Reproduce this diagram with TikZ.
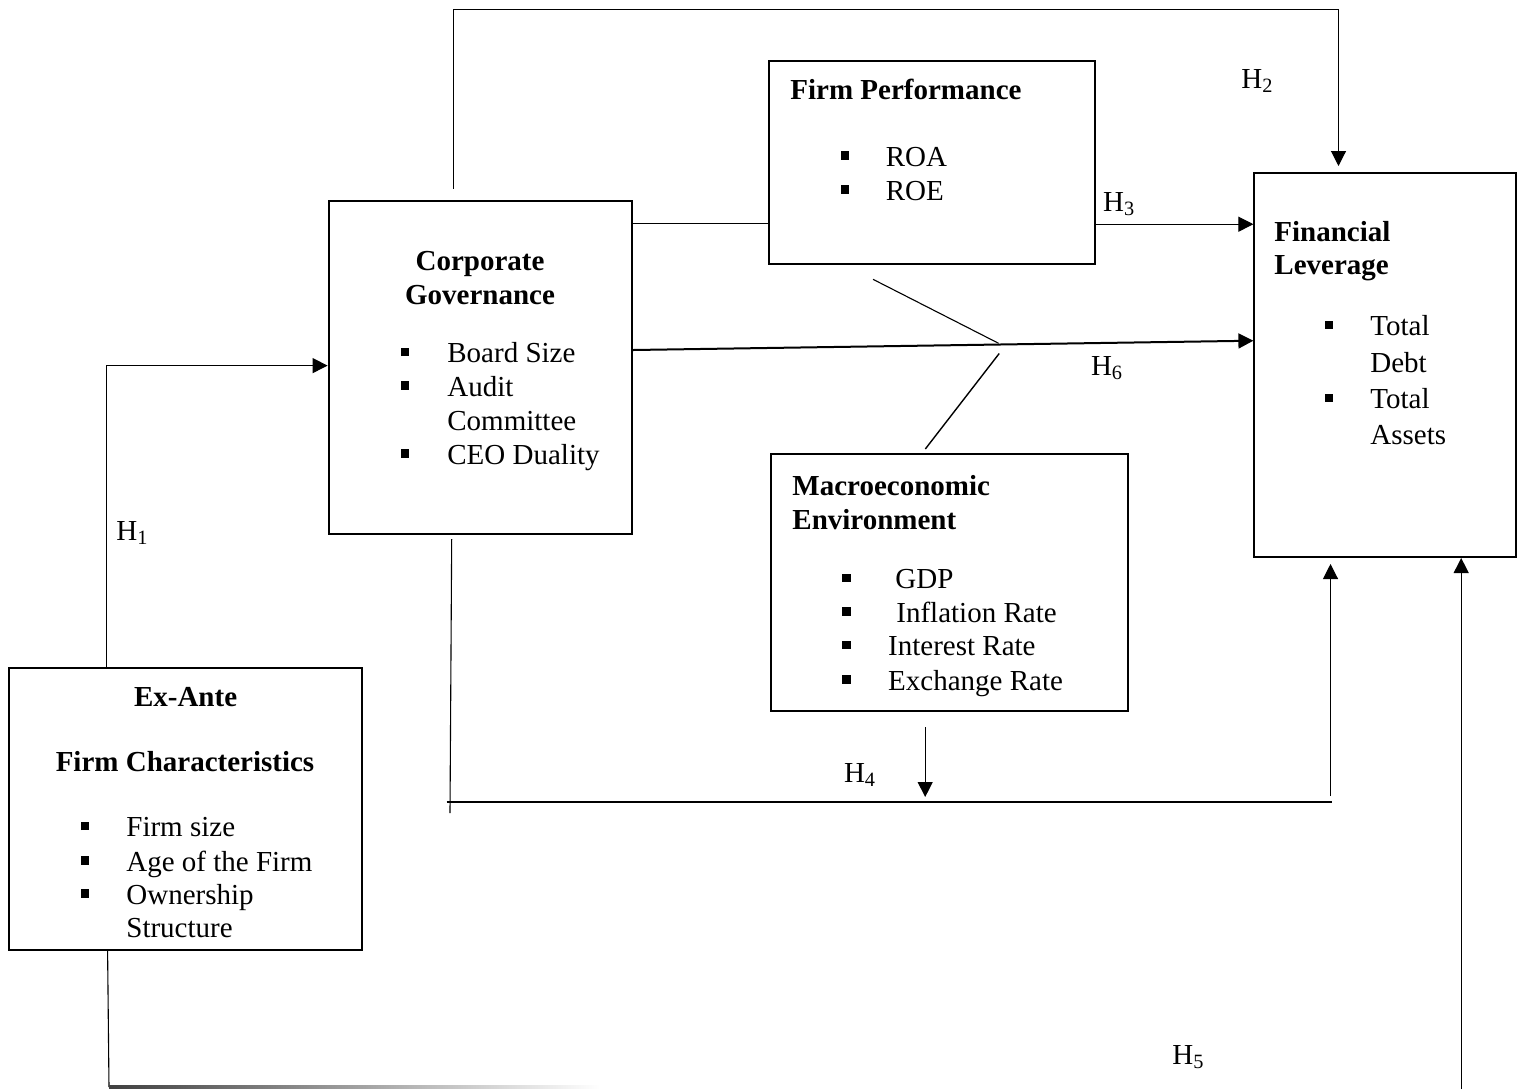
\documentclass[tikz,border=0pt]{standalone}
\usepackage{fontspec}
\setmainfont{Liberation Serif}
\usetikzlibrary{arrows.meta}
\newcommand\sqbul{\rule[3.25pt]{4.2pt}{4.2pt}}
\begin{document}
\begin{tikzpicture}[x=0.5pt,y=-0.5pt,
  font=\fontsize{14.5}{17}\selectfont,
  box/.style={draw,line width=1pt,inner sep=0pt,rectangle},
  conn/.style={line width=0.55pt},
  thickconn/.style={line width=1pt},
  tip/.style={-{Triangle[length=7.5pt,width=7.5pt]}},
  txt/.style={anchor=base west,inner sep=0pt},
  ctxt/.style={anchor=base,inner sep=0pt},
  bul/.style={anchor=base,inner sep=0pt}]
\useasboundingbox (0,0) rectangle (1522,1089);

% boxes
\node[box,minimum width=151.7pt,minimum height=166.5pt] (cg) at (480.3,367) {};
\node[box,minimum width=163.2pt,minimum height=101.5pt] (fp) at (932.2,162.5) {};
\node[box,minimum width=130.6pt,minimum height=192.15pt] (fl) at (1385,364.85) {};
\node[box,minimum width=178.55pt,minimum height=128.5pt] (me) at (949.25,582.5) {};
\node[box,minimum width=176.5pt,minimum height=141.25pt] (ea) at (185.5,808.75) {};

% Corporate Governance text
\node[ctxt] (cg1) at (480,270) {\textbf{Corporate}};
\node[ctxt] (cg2) at (480,304) {\textbf{Governance}};
\node[bul] (cgb1) at (405,362.5) {\sqbul};
\node[txt] (cgt1) at (447,362.5) {Board Size};
\node[bul] (cgb2) at (405,396) {\sqbul};
\node[txt] (cgt2) at (447,396) {Audit};
\node[txt] (cgt3) at (447,430) {Committee};
\node[bul] (cgb3) at (405,464) {\sqbul};
\node[txt] (cgt4) at (447,464) {CEO Duality};

% Firm Performance text
\node[txt] (fp1) at (790,99) {\textbf{Firm Performance}};
\node[bul] (fpb1) at (845,166) {\sqbul};
\node[txt] (fpt1) at (885.4,166) {ROA};
\node[bul] (fpb2) at (845,200) {\sqbul};
\node[txt] (fpt2) at (885.4,200) {ROE};

% Financial Leverage text
\node[txt] (fl1) at (1274,241.6) {\textbf{Financial}};
\node[txt] (fl2) at (1274,274.6) {\textbf{Leverage}};
\node[bul] (flb1) at (1328.8,335.4) {\sqbul};
\node[txt] (flt1) at (1370,335.4) {Total};
\node[txt] (flt2) at (1370,372) {Debt};
\node[bul] (flb2) at (1328.8,408.4) {\sqbul};
\node[txt] (flt3) at (1370,408.4) {Total};
\node[txt] (flt4) at (1370,444.2) {Assets};

% Macroeconomic Environment text
\node[txt] (me1) at (792,495) {\textbf{Macroeconomic}};
\node[txt] (me2) at (792,529) {\textbf{Environment}};
\node[bul] (meb1) at (846.5,588.4) {\sqbul};
\node[txt] (met1) at (895,588.4) {GDP};
\node[bul] (meb2) at (846.5,622) {\sqbul};
\node[txt] (met2) at (896,622) {Inflation Rate};
\node[bul] (meb3) at (846.5,655.4) {\sqbul};
\node[txt] (met3) at (887.8,655.4) {Interest Rate};
\node[bul] (meb4) at (846.5,690) {\sqbul};
\node[txt] (met4) at (887.8,690) {Exchange Rate};

% Ex-Ante text
\node[ctxt] (ea1) at (185.6,706) {\textbf{Ex-Ante}};
\node[ctxt] (ea2) at (185,771) {\textbf{Firm Characteristics}};
\node[bul] (eab1) at (84.8,836.5) {\sqbul};
\node[txt] (eat1) at (126,836.5) {Firm size};
\node[bul] (eab2) at (84.8,871) {\sqbul};
\node[txt] (eat2) at (126,871) {Age of the Firm};
\node[bul] (eab3) at (84.8,904) {\sqbul};
\node[txt] (eat3) at (126,904) {Ownership};
\node[txt] (eat4) at (126,937) {Structure};

% hypothesis labels
\node[txt] (h1) at (116,540) {H\textsubscript{1}};
\node[txt] (h2) at (1241,88.6) {H\textsubscript{2}};
\node[txt] (h3) at (1102.7,211) {H\textsubscript{3}};
\node[txt] (h4) at (843.6,782) {H\textsubscript{4}};
\node[txt] (h5) at (1172,1064.5) {H\textsubscript{5}};
\node[txt] (h6) at (1090.6,375.4) {H\textsubscript{6}};

% free-end coordinates
\coordinate (topstart) at (453.7,188.7);
\coordinate (toptip) at (1338.5,166);
\coordinate (modA1) at (873,279.3);
\coordinate (modA2) at (998.6,343.3);
\coordinate (modB1) at (999.2,353.5);
\coordinate (modB2) at (925.3,449);
\coordinate (cgdown1) at (451.7,539);
\coordinate (cgdown2) at (450,813);
\coordinate (h4left) at (446.7,802);
\coordinate (h4right) at (1331.5,802);
\coordinate (h4up1) at (1330.5,796);
\coordinate (h4up2) at (1330.5,564);
\coordinate (mearr1) at (925.2,727);
\coordinate (mearr2) at (925.2,797);
\coordinate (eadown) at (109,1087);
\coordinate (h5start) at (1461.2,1089);

% connectors
\draw[conn,tip] (ea.north -| 106.6,0) |- (cg.west |- 0,365.6);
\draw[conn,tip] (topstart) -- (453.7,9.4) -| (toptip);
\draw[conn] (cg.east |- 0,223.5) -- (fp.west |- 0,223.5);
\draw[conn,tip] (fp.east |- 0,224.2) -- (fl.west |- 0,224.2);
\draw[thickconn,tip] (cg.east |- 0,350) -- (fl.west |- 0,340.7);
\draw[conn] (modA1) -- (modA2);
\draw[line width=0.7pt] (modB1) -- (modB2);
\draw[conn] (cgdown1) -- (cgdown2);
\draw[thickconn] (h4left) -- (h4right);
\draw[conn,tip] (h4up1) -- (h4up2);
\draw[conn,tip] (mearr1) -- (mearr2);
\draw[conn] (ea.south -| 107.6,0) -- (eadown);
\shade[left color=black!75,right color=white] (109,1085.8) rectangle (600,1088.2);
\draw[conn,tip] (h5start) -- (fl.south -| 1461.2,0);
\end{tikzpicture}
\end{document}
